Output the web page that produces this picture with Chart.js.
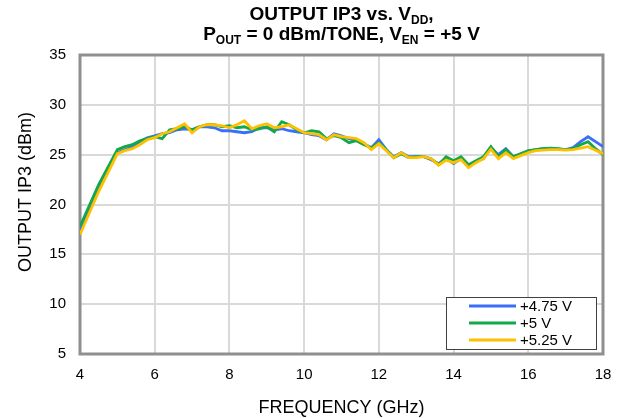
<!DOCTYPE html>
<html>
<head>
<meta charset="utf-8">
<script src="https://cdn.jsdelivr.net/npm/chart.js@4.4.1/dist/chart.umd.min.js"></script>
<style>
  html, body { margin: 0; padding: 0; background: #fff; }
  #wrap { width: 626px; height: 418px; }
</style>
</head>
<body>
<div id="wrap"><canvas id="ip3-chart" width="626" height="418"></canvas></div>
<script>
// frequency points (GHz)
const freqs = [4, 4.5, 5.0, 5.2, 5.4, 5.6, 5.8, 6.0, 6.2, 6.4, 6.6, 6.8, 7.0, 7.2, 7.4, 7.6, 7.8,
  8.0, 8.2, 8.4, 8.6, 8.8, 9.0, 9.2, 9.4, 9.6, 9.8, 10.0, 10.2, 10.4, 10.6, 10.8, 11.0, 11.2,
  11.4, 11.6, 11.8, 12.0, 12.2, 12.4, 12.6, 12.8, 13.0, 13.2, 13.4, 13.6, 13.8, 14.0, 14.2,
  14.4, 14.6, 14.8, 15.0, 15.2, 15.4, 15.6, 15.8, 16.0, 16.2, 16.4, 16.6, 16.8, 17.0, 17.2,
  17.4, 17.6, 17.8, 18.0];

// output IP3 (dBm) per supply
const ip3_475 = [17.4, 21.5, 25.2, 25.5, 25.8, 26.3, 26.7, 26.9, 27.1, 27.2, 27.5, 27.6, 27.5, 27.8, 27.8, 27.7, 27.4,
  27.4, 27.3, 27.2, 27.3, 27.7, 27.7, 27.5, 27.6, 27.4, 27.3, 27.2, 27.0, 26.9, 26.5, 27.1, 26.9, 26.6,
  26.4, 26.1, 25.7, 26.5, 25.5, 24.8, 25.2, 24.8, 24.8, 24.8, 24.5, 24.1, 24.6, 24.1, 24.6,
  23.9, 24.3, 24.6, 25.7, 25.0, 25.6, 24.8, 25.0, 25.3, 25.5, 25.6, 25.6, 25.55, 25.5, 25.7,
  26.3, 26.8, 26.3, 25.8];
const ip3_500 = [17.8, 22.0, 25.5, 25.8, 26.0, 26.4, 26.6, 26.8, 26.6, 27.5, 27.6, 27.8, 27.5, 27.8, 28.0, 28.0, 27.8,
  27.9, 27.7, 27.8, 27.5, 27.6, 27.8, 27.3, 28.3, 28.0, 27.5, 27.2, 27.4, 27.3, 26.6, 26.9, 26.7, 26.2,
  26.4, 26.0, 25.7, 26.2, 25.5, 24.7, 25.1, 24.7, 24.8, 24.8, 24.6, 24.0, 24.8, 24.4, 24.8,
  24.0, 24.4, 24.8, 25.8, 24.8, 25.5, 24.8, 25.1, 25.4, 25.5, 25.6, 25.65, 25.6, 25.5, 25.6,
  26.0, 26.3, 25.6, 25.0];
const ip3_525 = [17.0, 21.3, 25.1, 25.4, 25.6, 26.0, 26.5, 26.7, 27.1, 27.3, 27.7, 28.1, 27.2, 27.8, 28.0, 28.0, 27.9,
  27.7, 28.0, 28.4, 27.6, 27.9, 28.1, 27.7, 27.8, 28.0, 27.6, 27.2, 27.1, 27.0, 26.5, 27.0, 26.8, 26.7,
  26.6, 26.2, 25.5, 26.1, 25.4, 24.7, 25.2, 24.7, 24.7, 24.8, 24.6, 23.95, 24.45, 24.2, 24.5,
  23.7, 24.2, 24.6, 25.55, 24.6, 25.2, 24.6, 24.9, 25.2, 25.4, 25.45, 25.5, 25.5, 25.45, 25.5,
  25.65, 25.8, 25.45, 25.1];

const seriesNames = ['+4.75 V', '+5 V', '+5.25 V'];
const seriesColors = ['#3a6ff7', '#13a84b', '#ffc000'];
const xTicks = [4, 6, 8, 10, 12, 14, 16, 18];
const yTicks = [5, 10, 15, 20, 25, 30, 35];

const FONT = '"Liberation Sans", Arial, sans-serif';

// draws a line of text made of [text, isSub] pieces, centred on cx
function drawRich(ctx, parts, cx, y, size, subSize) {
  let total = 0;
  parts.forEach(p => {
    ctx.font = 'bold ' + (p[1] ? subSize : size) + 'px ' + FONT;
    total += ctx.measureText(p[0]).width;
  });
  let x = cx - total / 2;
  parts.forEach(p => {
    ctx.font = 'bold ' + (p[1] ? subSize : size) + 'px ' + FONT;
    ctx.fillText(p[0], x, p[1] ? y + 4 : y);
    x += ctx.measureText(p[0]).width;
  });
}

const decorPlugin = {
  id: 'decor',
  beforeDatasetsDraw(chart) {
    const { ctx, chartArea: a } = chart;
    ctx.save();
    ctx.strokeStyle = '#8f8f8f';
    ctx.lineWidth = 3;
    ctx.strokeRect(a.left, a.top, a.right - a.left, a.bottom - a.top);
    ctx.restore();
  },
  afterDraw(chart) {
    const { ctx, chartArea: a } = chart;
    ctx.save();
    ctx.fillStyle = '#000';
    ctx.textAlign = 'left';
    ctx.textBaseline = 'alphabetic';
    const cx = (a.left + a.right) / 2;
    drawRich(ctx, [['OUTPUT IP3 vs. V', false], ['DD', true], [',', false]], cx, 20, 19, 12);
    drawRich(ctx, [['P', false], ['OUT', true], [' = 0 dBm/TONE, V', false], ['EN', true], [' = +5 V', false]], cx, 40, 19, 12);

    // axis titles
    ctx.font = '18px ' + FONT;
    ctx.textAlign = 'center';
    ctx.textBaseline = 'middle';
    ctx.fillText('FREQUENCY (GHz)', cx, 408);
    ctx.save();
    ctx.translate(26, 192);
    ctx.rotate(-Math.PI / 2);
    ctx.fillText('OUTPUT IP3 (dBm)', 0, 0);
    ctx.restore();

    // legend box
    const lx = 446, ly = 297, lw = 150, lh = 52;
    ctx.fillStyle = '#fff';
    ctx.fillRect(lx, ly, lw, lh);
    ctx.strokeStyle = '#404040';
    ctx.lineWidth = 1;
    ctx.strokeRect(lx + 0.5, ly + 0.5, lw, lh);
    ctx.font = '15px ' + FONT;
    ctx.textAlign = 'left';
    seriesNames.forEach((name, i) => {
      const yy = ly + 9 + i * 17;
      ctx.strokeStyle = seriesColors[i];
      ctx.lineWidth = 3;
      ctx.beginPath();
      ctx.moveTo(lx + 23, yy);
      ctx.lineTo(lx + 70, yy);
      ctx.stroke();
      ctx.fillStyle = '#000';
      ctx.fillText(name, lx + 74, yy + 1);
    });
    ctx.restore();
  }
};

const allSeries = [ip3_475, ip3_500, ip3_525];

new Chart(document.getElementById('ip3-chart'), {
  type: 'line',
  data: {
    datasets: allSeries.map((vals, i) => ({
      label: seriesNames[i],
      data: freqs.map((f, j) => ({ x: f, y: vals[j] })),
      borderColor: seriesColors[i],
      borderWidth: 2.8,
      pointRadius: 0,
      tension: 0,
      fill: false,
      order: 3 - i   // yellow drawn last, on top
    }))
  },
  options: {
    responsive: false,
    animation: false,
    layout: { padding: { top: 55, right: 23, left: 0, bottom: 0 } },
    plugins: {
      legend: { display: false },
      title: { display: false },
      tooltip: { enabled: false }
    },
    scales: {
      x: {
        type: 'linear',
        min: 4, max: 18,
        afterBuildTicks: s => { s.ticks = xTicks.map(v => ({ value: v })); },
        afterFit: s => { s.height = 64; },
        grid: { color: '#d9d9d9', lineWidth: 2, drawTicks: false },
        border: { display: false },
        ticks: { color: '#000', font: { family: FONT, size: 15 }, padding: 12, maxRotation: 0 }
      },
      y: {
        min: 5, max: 35,
        afterBuildTicks: s => { s.ticks = yTicks.map(v => ({ value: v })); },
        afterFit: s => { s.width = 80; },
        grid: { color: '#d9d9d9', lineWidth: 2, drawTicks: false },
        border: { display: false },
        ticks: { color: '#000', font: { family: FONT, size: 15 }, padding: 14 }
      }
    }
  },
  plugins: [decorPlugin]
});
</script>
</body>
</html>
